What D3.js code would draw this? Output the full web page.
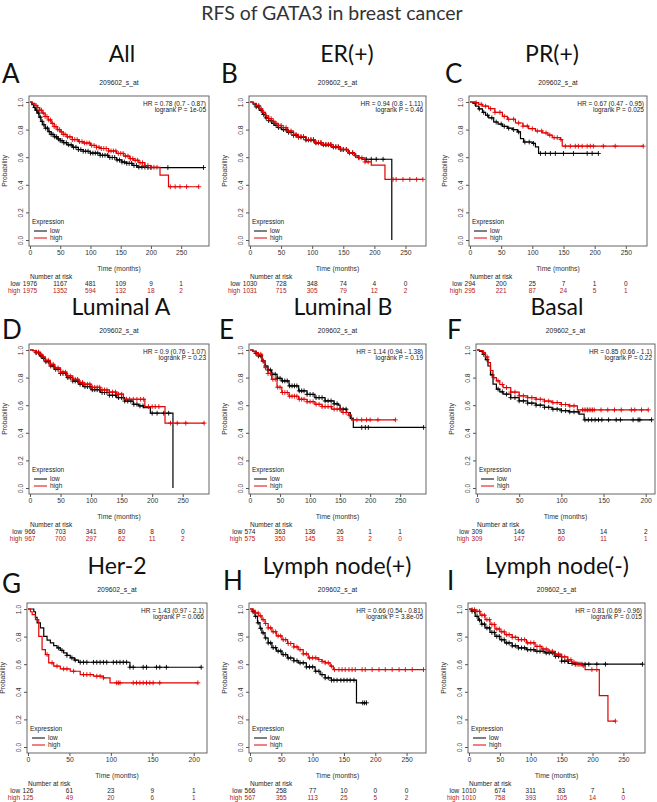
<!DOCTYPE html>
<html><head><meta charset="utf-8">
<script src="https://cdn.jsdelivr.net/npm/d3@7/dist/d3.min.js"></script>
<style>body{margin:0;background:#fff}svg{display:block}</style>
</head><body><svg id="c" width="657" height="802"></svg>
<script>
// ---------------- DATA ----------------
const mainTitle = "RFS of GATA3 in breast cancer";
const probeName = "209602_s_at";
const panelLetters = ["A","B","C","D","E","F","G","H","I"];
const panelTitles = ["All","ER(+)","PR(+)","Luminal A","Luminal B","Basal","Her-2","Lymph node(+)","Lymph node(-)"];
const hrTexts = ["HR = 0.78 (0.7 - 0.87)","HR = 0.94 (0.8 - 1.11)","HR = 0.67 (0.47 - 0.95)",
  "HR = 0.9 (0.76 - 1.07)","HR = 1.14 (0.94 - 1.38)","HR = 0.85 (0.66 - 1.1)",
  "HR = 1.43 (0.97 - 2.1)","HR = 0.66 (0.54 - 0.81)","HR = 0.81 (0.69 - 0.96)"];
const logrankTexts = ["logrank P = 1e-05","logrank P = 0.46","logrank P = 0.025",
  "logrank P = 0.23","logrank P = 0.19","logrank P = 0.22",
  "logrank P = 0.066","logrank P = 3.8e-05","logrank P = 0.015"];
const xMax = [296,283,284,293,293,211,216,281,285];
const xTicks = [[0,50,100,150,200,250],[0,50,100,150,200,250],[0,50,100,150,200,250],
  [0,50,100,150,200,250],[0,50,100,150,200,250],[0,50,100,150,200],
  [0,50,100,150,200],[0,50,100,150,200,250],[0,50,100,150,200,250]];
const yTicks = [0,0.2,0.4,0.6,0.8,1.0];
const riskLow = [[1976,1167,481,109,9,1],[1030,728,348,74,4,0],[294,200,25,7,1,0],
  [966,703,341,80,8,0],[574,363,136,26,1,1],[309,146,53,14,2],
  [126,61,23,9,1],[566,258,77,10,0,0],[1010,674,311,83,7,1]];
const riskHigh = [[1975,1352,594,132,18,2],[1031,715,305,79,12,2],[295,221,87,24,5,1],
  [967,700,297,62,11,2],[575,350,145,33,2,0],[309,147,60,11,1],
  [125,49,20,6,1],[567,355,113,25,5,2],[1010,758,393,105,14,0]];

// survival step curves [time, probability after time]
const lowA = [[0,1],[3,0.98],[6,0.96],[9,0.94],[12,0.92],[15,0.89],[18,0.86],[21,0.835],[25,0.81],[30,0.785],[35,0.765],[40,0.748],[45,0.733],[50,0.72],[55,0.705],[61,0.69],[70,0.672],[80,0.655],[88,0.643],[100,0.63],[116,0.614],[130,0.598],[143,0.58],[152,0.565],[160,0.555],[170,0.54],[177,0.528],[195,0.525],[287,0.525]];
const highA = [[0,1],[4,0.99],[8,0.975],[12,0.96],[16,0.94],[20,0.92],[25,0.895],[30,0.87],[35,0.845],[40,0.822],[45,0.8],[50,0.783],[55,0.765],[61,0.748],[70,0.728],[80,0.713],[88,0.703],[100,0.685],[110,0.672],[116,0.663],[130,0.645],[143,0.627],[155,0.608],[165,0.59],[171,0.578],[180,0.56],[190,0.54],[200,0.527],[215,0.47],[229,0.386],[279,0.386]];
const lowB = [[0,1],[5,0.985],[10,0.965],[15,0.94],[20,0.91],[25,0.885],[30,0.865],[35,0.845],[40,0.83],[45,0.815],[51,0.8],[60,0.78],[70,0.758],[78,0.745],[90,0.725],[104,0.704],[115,0.69],[131,0.675],[145,0.655],[158,0.632],[168,0.612],[174,0.598],[180,0.585],[228,0]];
const highB = [[0,1],[5,0.99],[10,0.975],[15,0.95],[20,0.925],[25,0.9],[30,0.88],[35,0.86],[40,0.845],[45,0.83],[51,0.815],[60,0.79],[70,0.765],[78,0.75],[90,0.728],[104,0.706],[115,0.693],[131,0.675],[145,0.657],[158,0.632],[168,0.612],[175,0.595],[185,0.566],[195,0.542],[217,0.439],[278,0.439]];
const lowC = [[0,1],[5,0.99],[9,0.97],[14,0.95],[20,0.925],[25,0.904],[30,0.885],[38,0.855],[45,0.84],[52,0.824],[60,0.81],[68,0.8],[76,0.783],[81,0.735],[86,0.71],[100,0.7],[105,0.675],[110,0.627],[206,0.627]];
const highC = [[0,1],[8,0.995],[14,0.983],[20,0.97],[30,0.952],[40,0.925],[52,0.896],[60,0.875],[73,0.848],[85,0.825],[94,0.807],[105,0.79],[116,0.776],[125,0.76],[132,0.742],[145,0.728],[148,0.68],[278,0.68]];
const lowD = [[0,1],[5,0.995],[10,0.98],[16,0.957],[20,0.94],[25,0.915],[33,0.884],[40,0.86],[50,0.83],[60,0.8],[70,0.775],[80,0.752],[87,0.735],[100,0.712],[115,0.692],[130,0.672],[142,0.655],[155,0.63],[169,0.607],[178,0.595],[186,0.583],[197,0.542],[234,0]];
const highD = [[0,1],[5,0.995],[10,0.985],[16,0.969],[20,0.95],[25,0.925],[33,0.896],[40,0.87],[50,0.84],[60,0.812],[70,0.788],[80,0.765],[87,0.752],[100,0.73],[115,0.711],[130,0.695],[142,0.68],[153,0.643],[188,0.59],[221,0.47],[285,0.47]];
const lowE = [[0,1],[5,0.99],[10,0.975],[14,0.957],[20,0.92],[25,0.884],[30,0.855],[36,0.824],[45,0.795],[53,0.776],[65,0.74],[81,0.704],[95,0.678],[108,0.655],[125,0.631],[140,0.61],[147,0.6],[150,0.571],[161,0.547],[167,0.504],[172,0.439],[289,0.439]];
const highE = [[0,1],[5,0.99],[10,0.98],[14,0.969],[20,0.92],[25,0.872],[30,0.83],[36,0.788],[45,0.73],[53,0.692],[65,0.665],[81,0.643],[95,0.625],[108,0.607],[120,0.59],[136,0.571],[153,0.547],[164,0.528],[169,0.494],[242,0.494]];
const lowF = [[0,1],[3,0.99],[7,0.969],[10,0.93],[13,0.884],[16,0.82],[19,0.752],[23,0.716],[27,0.697],[31,0.68],[40,0.655],[50,0.631],[60,0.615],[70,0.6],[80,0.585],[89,0.571],[100,0.56],[109,0.552],[121,0.535],[127,0.494],[207,0.494]];
const highF = [[0,1],[3,0.995],[7,0.98],[10,0.95],[13,0.908],[16,0.85],[19,0.8],[23,0.776],[27,0.75],[31,0.728],[40,0.695],[50,0.668],[60,0.655],[70,0.643],[80,0.63],[89,0.619],[100,0.605],[109,0.595],[119,0.566],[203,0.566]];
const lowG = [[0,1],[7,0.98],[9,0.94],[11,0.9],[15,0.863],[19,0.802],[23,0.775],[27,0.754],[31,0.735],[35,0.718],[39,0.7],[43,0.682],[47,0.664],[51,0.646],[56,0.63],[61,0.614],[123,0.578],[209,0.578]];
const highG = [[0,1],[3,0.98],[5,0.959],[9,0.923],[13,0.802],[17,0.706],[21,0.67],[25,0.61],[31,0.586],[39,0.566],[51,0.549],[63,0.525],[79,0.513],[91,0.501],[99,0.465],[205,0.465]];
const lowH = [[0,1],[4,0.98],[8,0.947],[12,0.9],[16,0.86],[19,0.827],[24,0.79],[29,0.754],[35,0.72],[42,0.695],[51,0.67],[60,0.645],[70,0.625],[77,0.61],[90,0.58],[104,0.549],[112,0.525],[120,0.501],[130,0.484],[170,0.32],[186,0.32]];
const highH = [[0,1],[4,0.99],[8,0.971],[14,0.95],[19,0.923],[24,0.895],[29,0.863],[35,0.835],[42,0.805],[51,0.778],[60,0.75],[70,0.725],[77,0.706],[85,0.675],[93,0.646],[109,0.634],[115,0.62],[120,0.61],[128,0.586],[133,0.561],[277,0.561]];
const lowI = [[0,1],[4,0.985],[10,0.947],[15,0.92],[20,0.89],[26,0.863],[34,0.83],[42,0.802],[50,0.777],[58,0.754],[70,0.733],[80,0.718],[93,0.705],[107,0.694],[123,0.682],[139,0.658],[150,0.622],[161,0.605],[170,0.6],[281,0.6]];
const highI = [[0,1],[5,0.995],[10,0.983],[18,0.955],[26,0.923],[34,0.888],[42,0.855],[50,0.835],[58,0.814],[70,0.795],[80,0.778],[93,0.755],[107,0.729],[118,0.71],[128,0.694],[140,0.673],[150,0.653],[160,0.632],[166,0.614],[175,0.6],[183,0.59],[188,0.561],[211,0.373],[225,0.188],[237,0.188]];

// censoring times
const censLowA = [8,11,14,17,20,23,26,29,32,35,38,41,44,47,50,53,56,60,64,68,72,76,80,84,88,92,96,100,104,108,112,116,120,124,128,132,136,140,144,148,152,156,160,164,168,172,176,180,185,190,195,200,228,287];
const censHighA = [10,13,16,19,22,25,28,31,34,37,40,43,46,49,52,55,58,62,66,70,74,78,82,86,90,94,98,102,106,110,114,118,122,126,130,134,138,142,146,150,154,158,162,166,170,174,178,182,186,190,195,200,205,210,232,240,248,259,279];
const censLowB = [10,14,18,22,26,30,34,38,42,46,50,54,58,62,66,70,74,78,82,86,90,94,98,102,106,110,114,118,122,126,130,134,138,142,146,150,155,160,165,170,175,187,195,203,214];
const censHighB = [10,14,18,22,26,30,34,38,42,46,50,54,58,62,66,70,74,78,82,86,90,94,98,102,106,110,114,118,122,126,130,134,138,142,146,150,155,160,165,170,175,180,185,190,230,235,246,257,268,278];
const censLowC = [8,15,22,28,35,42,50,55,62,70,78,88,95,102,113,121,129,137,150,166,188,196,206];
const censHighC = [10,18,25,33,40,48,55,62,70,78,85,92,100,108,115,122,128,135,140,146,153,161,169,174,180,188,193,198,214,233,278];
const censLowD = [10,14,18,22,26,30,34,38,42,46,50,54,58,62,66,70,74,78,82,86,90,94,98,102,106,110,114,118,122,126,130,135,140,145,150,155,160,165,170,175,180,185,200,208,219,227];
const censHighD = [10,14,18,22,26,30,34,38,42,46,50,54,58,62,66,70,74,78,82,86,90,94,98,102,106,110,114,118,122,126,130,135,140,145,150,158,163,169,175,181,186,194,200,205,211,230,241,255,285];
const censLowE = [10,14,18,22,26,30,34,38,42,46,50,54,58,62,66,70,74,78,82,86,90,95,100,105,110,115,120,125,130,135,140,145,150,155,160,186,192,197,289];
const censHighE = [10,14,18,22,26,30,34,38,42,46,50,54,58,62,66,70,74,78,82,86,90,95,100,105,110,115,120,125,130,135,140,145,150,155,160,165,172,178,186,194,200,213,242];
const censLowF = [8,12,18,25,30,35,40,45,50,55,60,65,70,75,80,85,90,95,100,105,110,115,120,128,132,136,140,144,148,156,165,170,185,191,193,207];
const censHighF = [8,12,20,25,30,35,40,45,50,55,60,65,70,75,80,85,90,95,100,105,110,115,125,127,129,131,133,135,137,139,147,155,163,171,183,187,195,203];
const censLowG = [37,41,47,53,57,63,67,71,79,83,87,91,95,103,107,111,115,119,123,127,139,143,155,159,167,209];
const censHighG = [23,29,35,43,47,55,67,71,75,83,87,91,107,109,111,127,131,135,139,143,147,151,159,205];
const censLowH = [5,9,13,17,21,25,29,33,37,41,45,49,53,57,61,65,70,75,80,85,90,95,100,105,110,115,120,125,130,134,139,145,150,155,160,166,180,183,186];
const censHighH = [5,9,13,17,21,25,29,33,37,41,45,49,53,57,61,65,70,75,80,85,90,95,100,105,110,115,120,125,130,135,142,147,152,158,163,168,179,184,195,206,216,227,238,248,259,277];
const censLowI = [5,9,13,17,21,25,29,33,37,41,45,49,53,57,61,65,70,75,80,85,90,95,100,105,110,115,120,125,130,135,140,145,150,155,160,167,172,178,183,188,194,207,221,281];
const censHighI = [5,9,13,17,21,25,29,33,37,41,45,49,53,57,61,65,70,75,80,85,90,95,100,105,110,115,120,125,130,135,140,145,150,155,160,165,170,175,180,185,199,207,237];

const lowCurves = [lowA,lowB,lowC,lowD,lowE,lowF,lowG,lowH,lowI];
const highCurves = [highA,highB,highC,highD,highE,highF,highG,highH,highI];
const lowCens = [censLowA,censLowB,censLowC,censLowD,censLowE,censLowF,censLowG,censLowH,censLowI];
const highCens = [censHighA,censHighB,censHighC,censHighD,censHighE,censHighF,censHighG,censHighH,censHighI];

// ---------------- LAYOUT ----------------
const boxL = [29,249,469, 29,249,476, 27,249,468];
const boxR = [209,426,647, 209,426,655, 207,426,645];
const rowTop = [96,344,603], rowBot = [246,494,753];
const titleX = [122,347,552, 121,343,557, 117,337,557];
const titleY = [62,315,574];
const letterX = [2,221,445, 2,219,447, 2,223,447];
const letterY = [83,83,83, 339,339,339, 593,590,590];

const LOW = "#000", HIGH = "#e30000", HIGHTXT = "#b52020", AX = "#555";
const svg = d3.select("#c");
svg.append("rect").attr("width",657).attr("height",802).attr("fill","#fff");
svg.append("text").attr("x",332).attr("y",20).attr("text-anchor","middle")
  .attr("font-family","Lato, 'Open Sans', sans-serif").attr("font-size",19.5).attr("fill","#333").text(mainTitle);

const small = "'Liberation Sans', Arial, sans-serif";
function stepAt(curve, t){ let v = curve[0][1]; for (const d of curve){ if (d[0] <= t) v = d[1]; } return v; }

for (let i=0;i<9;i++){
  const row = Math.floor(i/3);
  const L = boxL[i], R = boxR[i], T = rowTop[row], B = rowBot[row];
  const x = d3.scaleLinear().domain([0,xMax[i]]).range([L+1,R]);
  const y = d3.scaleLinear().domain([0,1]).range([B-6,T+6]);
  const g = svg.append("g");

  g.append("text").attr("x",titleX[i]).attr("y",titleY[row]).attr("text-anchor","middle")
    .attr("font-family","Lato, 'Open Sans', sans-serif").attr("font-size",23).attr("fill","#111").text(panelTitles[i]);
  g.append("text").attr("x",letterX[i]).attr("y",letterY[i])
    .attr("font-family","Lato, 'Open Sans', sans-serif").attr("font-size",26).attr("fill","#111").text(panelLetters[i]);
  g.append("text").attr("x",(L+R)/2).attr("y",T-11).attr("text-anchor","middle")
    .attr("font-family",small).attr("font-size",6.8).attr("fill","#222").text(probeName);

  // axes
  const xa = g.append("g").attr("transform",`translate(0,${B})`)
    .call(d3.axisBottom(x).tickValues(xTicks[i]).tickSize(3).tickFormat(d3.format("d")));
  xa.select(".domain").remove();
  xa.selectAll("line").attr("stroke",AX);
  xa.selectAll("text").attr("font-family",small).attr("font-size",6.8).attr("fill","#333").attr("dy","0.9em").attr("y",3);
  const ya = g.append("g").attr("transform",`translate(${L},0)`)
    .call(d3.axisLeft(y).tickValues(yTicks).tickSize(3).tickFormat(d3.format(".1f")));
  ya.select(".domain").remove();
  ya.selectAll("line").attr("stroke",AX);
  ya.selectAll("text").attr("font-family",small).attr("font-size",6.8).attr("fill","#333")
    .attr("text-anchor","middle").attr("x",0).attr("dy",0)
    .attr("transform","translate(-6,0) rotate(-90)");
  g.append("rect").attr("x",L).attr("y",T).attr("width",R-L).attr("height",B-T)
    .attr("fill","none").attr("stroke",AX).attr("stroke-width",0.9);

  g.append("text").attr("transform",`translate(${L-22},${(T+B)/2}) rotate(-90)`).attr("text-anchor","middle")
    .attr("font-family",small).attr("font-size",6.8).attr("fill","#333").text("Probability");
  g.append("text").attr("x",(L+R)/2).attr("y",B+25).attr("text-anchor","middle")
    .attr("font-family",small).attr("font-size",6.8).attr("fill","#333").text("Time (months)");

  // HR text
  g.append("text").attr("x",R-3).attr("y",T+9.5).attr("text-anchor","end")
    .attr("font-family",small).attr("font-size",6.5).attr("fill","#222").text(hrTexts[i]);
  g.append("text").attr("x",R-3).attr("y",T+16).attr("text-anchor","end")
    .attr("font-family",small).attr("font-size",6.5).attr("fill","#222").text(logrankTexts[i]);

  // legend
  g.append("text").attr("x",L+3).attr("y",B-22).attr("font-family",small).attr("font-size",6.5).attr("fill","#222").text("Expression");
  [["low",LOW,B-15],["high",HIGH,B-8]].forEach(([lab,col,yy])=>{
    g.append("line").attr("x1",L+5).attr("x2",L+18).attr("y1",yy).attr("y2",yy).attr("stroke",col).attr("stroke-width",1);
    g.append("text").attr("x",L+21).attr("y",yy+2.2).attr("font-family",small).attr("font-size",6.5).attr("fill","#222").text(lab);
  });

  // curves
  const line = d3.line().x(d=>x(d[0])).y(d=>y(d[1])).curve(d3.curveStepAfter);
  [[lowCurves[i],lowCens[i],LOW],[highCurves[i],highCens[i],HIGH]].forEach(([cv,cs,col])=>{
    g.append("path").attr("d",line(cv)).attr("fill","none").attr("stroke",col).attr("stroke-width",1.2);
    const m = g.append("g").attr("stroke",col).attr("stroke-width",0.9);
    cs.forEach(t=>{
      const px = x(t), py = y(stepAt(cv,t));
      m.append("line").attr("x1",px-2.4).attr("x2",px+2.4).attr("y1",py).attr("y2",py);
      m.append("line").attr("x1",px).attr("x2",px).attr("y1",py-2.4).attr("y2",py+2.4);
    });
  });

  // number at risk
  const x0 = x(0);
  g.append("text").attr("x",x0).attr("y",B+33).attr("font-family",small).attr("font-size",6.5).attr("fill","#222").text("Number at risk");
  [[riskLow[i],"low","#222",B+39.5],[riskHigh[i],"high",HIGHTXT,B+46.5]].forEach(([vals,lab,col,yy])=>{
    const nd = String(vals[0]).length;
    g.append("text").attr("x",x0-nd*1.8-2.5).attr("y",yy).attr("text-anchor","end")
      .attr("font-family",small).attr("font-size",6.5).attr("fill",col).text(lab);
    vals.forEach((v,k)=>{
      g.append("text").attr("x",x(xTicks[i][k])).attr("y",yy).attr("text-anchor","middle")
        .attr("font-family",small).attr("font-size",6.5).attr("fill",col).text(v);
    });
  });
}
</script></body></html>
